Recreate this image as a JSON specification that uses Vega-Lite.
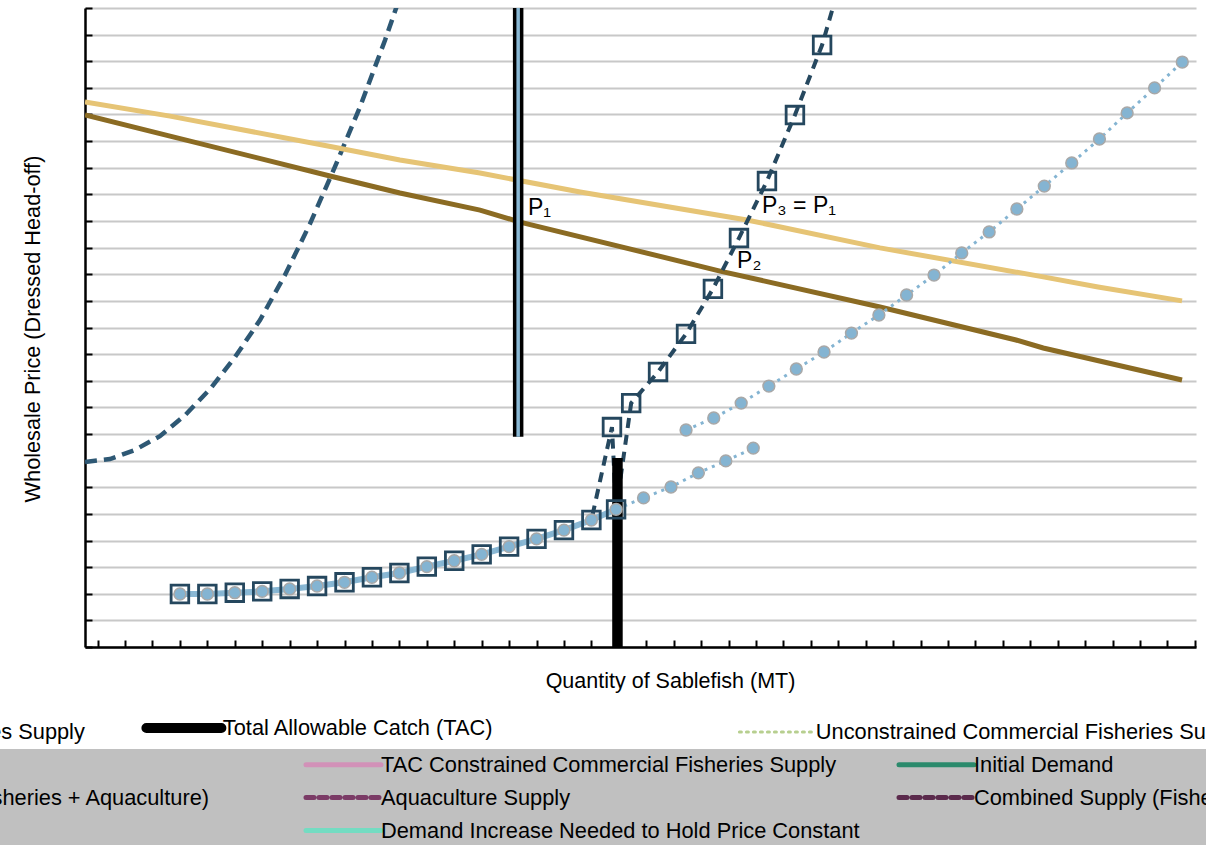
{
  "$schema": "https://vega.github.io/schema/vega-lite/v6.json",
  "autosize": {"type": "none"},
  "padding": {"left": 85, "top": 8, "right": 10, "bottom": 198},
  "width": 1111,
  "height": 639,
  "background": "white",
  "config": {
    "view": {"stroke": null},
    "font": "Liberation Sans, Arial, sans-serif"
  },
  "datasets": {
    "initialDemand": [
      {"q": 0.54, "p": 19.98}, {"q": 3.64, "p": 19.19}, {"q": 9.47, "p": 17.69}, {"q": 12.02, "p": 17.05},
      {"q": 14.94, "p": 16.41}, {"q": 16.40, "p": 15.96}, {"q": 23.69, "p": 14.12}, {"q": 29.52, "p": 12.77},
      {"q": 34.48, "p": 11.53}, {"q": 35.47, "p": 11.23}, {"q": 40.53, "p": 10.03}
    ],
    "increasedDemand": [
      {"q": 0.54, "p": 20.47}, {"q": 3.64, "p": 19.94}, {"q": 9.58, "p": 18.78}, {"q": 12.02, "p": 18.29},
      {"q": 14.94, "p": 17.80}, {"q": 18.59, "p": 17.09}, {"q": 24.67, "p": 16.04}, {"q": 29.52, "p": 14.99},
      {"q": 35.47, "p": 13.90}, {"q": 37.47, "p": 13.52}, {"q": 40.53, "p": 13.00}
    ],
    "aquaculture": [
      {"q": 0.54, "p": 6.95}, {"q": 1.45, "p": 7.06}, {"q": 2.36, "p": 7.40}, {"q": 3.27, "p": 7.92},
      {"q": 4.19, "p": 8.71}, {"q": 5.10, "p": 9.69}, {"q": 6.01, "p": 10.89}, {"q": 6.92, "p": 12.28},
      {"q": 7.83, "p": 13.97}, {"q": 8.74, "p": 15.89}, {"q": 9.65, "p": 18.03}, {"q": 10.57, "p": 20.30},
      {"q": 11.48, "p": 22.80}, {"q": 12.02, "p": 24.41}, {"q": 12.57, "p": 26.10}
    ],
    "combined": [
      {"q": 4, "p": 1.99}, {"q": 5, "p": 1.99}, {"q": 6, "p": 2.04}, {"q": 7, "p": 2.09}, {"q": 8, "p": 2.18},
      {"q": 9, "p": 2.29}, {"q": 10, "p": 2.43}, {"q": 11, "p": 2.62}, {"q": 12, "p": 2.78}, {"q": 13, "p": 3.02},
      {"q": 14, "p": 3.24}, {"q": 15, "p": 3.48}, {"q": 16, "p": 3.77}, {"q": 17, "p": 4.06}, {"q": 18, "p": 4.39},
      {"q": 19, "p": 4.77}, {"q": 19.9, "p": 5.17},
      {"q": 19.75, "p": 8.26}, {"q": 20.45, "p": 9.16}, {"q": 21.43, "p": 10.33}, {"q": 22.45, "p": 11.76},
      {"q": 23.43, "p": 13.45}, {"q": 24.38, "p": 15.36}, {"q": 25.40, "p": 17.50}, {"q": 26.42, "p": 19.98},
      {"q": 27.41, "p": 22.61}, {"q": 27.99, "p": 24.68}
    ],
    "tacConstrained": [
      {"q": 4, "p": 1.99}, {"q": 5, "p": 1.99}, {"q": 6, "p": 2.04}, {"q": 7, "p": 2.09}, {"q": 8, "p": 2.18},
      {"q": 9, "p": 2.29}, {"q": 10, "p": 2.43}, {"q": 11, "p": 2.62}, {"q": 12, "p": 2.78}, {"q": 13, "p": 3.02},
      {"q": 14, "p": 3.24}, {"q": 15, "p": 3.48}, {"q": 16, "p": 3.77}, {"q": 17, "p": 4.06}, {"q": 18, "p": 4.39},
      {"q": 19, "p": 4.77}, {"q": 19.9, "p": 5.17}
    ],
    "unconstrained": [
      {"seg": "a", "q": 4, "p": 1.99}, {"seg": "a", "q": 5, "p": 1.99}, {"seg": "a", "q": 6, "p": 2.04},
      {"seg": "a", "q": 7, "p": 2.09}, {"seg": "a", "q": 8, "p": 2.18}, {"seg": "a", "q": 9, "p": 2.29},
      {"seg": "a", "q": 10, "p": 2.43}, {"seg": "a", "q": 11, "p": 2.62}, {"seg": "a", "q": 12, "p": 2.78},
      {"seg": "a", "q": 13, "p": 3.02}, {"seg": "a", "q": 14, "p": 3.24}, {"seg": "a", "q": 15, "p": 3.48},
      {"seg": "a", "q": 16, "p": 3.77}, {"seg": "a", "q": 17, "p": 4.06}, {"seg": "a", "q": 18, "p": 4.39},
      {"seg": "a", "q": 19, "p": 4.77}, {"seg": "a", "q": 19.9, "p": 5.17}, {"seg": "a", "q": 20.9, "p": 5.60},
      {"seg": "a", "q": 21.9, "p": 6.01}, {"seg": "a", "q": 22.9, "p": 6.54}, {"seg": "a", "q": 23.9, "p": 6.99},
      {"seg": "a", "q": 24.9, "p": 7.47},
      {"seg": "b", "q": 22.45, "p": 8.15}, {"seg": "b", "q": 23.46, "p": 8.60}, {"seg": "b", "q": 24.46, "p": 9.16},
      {"seg": "b", "q": 25.47, "p": 9.80}, {"seg": "b", "q": 26.47, "p": 10.44}, {"seg": "b", "q": 27.48, "p": 11.08},
      {"seg": "b", "q": 28.48, "p": 11.79}, {"seg": "b", "q": 29.48, "p": 12.47}, {"seg": "b", "q": 30.49, "p": 13.22},
      {"seg": "b", "q": 31.49, "p": 13.97}, {"seg": "b", "q": 32.50, "p": 14.80}, {"seg": "b", "q": 33.50, "p": 15.59},
      {"seg": "b", "q": 34.51, "p": 16.45}, {"seg": "b", "q": 35.51, "p": 17.31}, {"seg": "b", "q": 36.51, "p": 18.18},
      {"seg": "b", "q": 37.52, "p": 19.08}, {"seg": "b", "q": 38.53, "p": 20.06}, {"seg": "b", "q": 39.53, "p": 21.00},
      {"seg": "b", "q": 40.54, "p": 21.97}
    ],
    "tac": [
      {"part": "upper", "q": 16.33, "p": 7.9, "p2": 24},
      {"part": "lower", "q": 19.95, "p": 0, "p2": 7.1}
    ],
    "labels": [
      {"label": "P₁", "q": 16.69, "p": 16.23},
      {"label": "P₃ = P₁", "q": 25.22, "p": 16.30},
      {"label": "P₂", "q": 24.31, "p": 14.23}
    ],
    "legendW": [
      {"entryW": "TAC Constrained Commercial Fisheries Supply"},
      {"entryW": "Total Allowable Catch (TAC)"},
      {"entryW": "Unconstrained Commercial Fisheries Supply"}
    ],
    "legendG": [
      {"entryG": "TAC Constrained Commercial Fisheries Supply"},
      {"entryG": "Initial Demand"},
      {"entryG": "Combined Supply (Fisheries + Aquaculture)"},
      {"entryG": "Aquaculture Supply"},
      {"entryG": "Demand Increase Needed to Hold Price Constant"}
    ]
  },
  "encoding": {
    "x": {
      "field": "q", "type": "quantitative",
      "scale": {"domain": [0.54, 41.04], "nice": false, "zero": false},
      "axis": {
        "title": "Quantity of Sablefish (MT)",
        "labels": false, "grid": false,
        "values": [1,2,3,4,5,6,7,8,9,10,11,12,13,14,15,16,17,18,19,20,21,22,23,24,25,26,27,28,29,30,31,32,33,34,35,36,37,38,39,40,41],
        "tickSize": -7, "tickColor": "#000", "tickWidth": 2,
        "domainColor": "#000", "domainWidth": 2.5,
        "titleX": 585, "titleY": 34, "titleAlign": "center", "titleBaseline": "middle",
        "titleFontSize": 21.5, "titleFontWeight": "normal", "titleColor": "#000",
        "titleFont": "Liberation Sans, Arial, sans-serif"
      }
    },
    "y": {
      "field": "p", "type": "quantitative",
      "scale": {"domain": [0, 24], "nice": false, "zero": false},
      "axis": {
        "title": "Wholesale Price (Dressed Head-off)",
        "labels": false, "grid": true, "gridColor": "#c8c8c8", "gridWidth": 2.2,
        "values": [0,1,2,3,4,5,6,7,8,9,10,11,12,13,14,15,16,17,18,19,20,21,22,23,24],
        "tickSize": -7, "tickColor": "#000", "tickWidth": 2,
        "domainColor": "#000", "domainWidth": 2.5,
        "titleX": -53, "titleY": 320.5, "titleAngle": 270, "titleAlign": "center", "titleBaseline": "middle",
        "titleFontSize": 21.7, "titleFontWeight": "normal", "titleColor": "#000",
        "titleFont": "Liberation Sans, Arial, sans-serif"
      }
    }
  },
  "layer": [
    {
      "data": {"name": "aquaculture"},
      "mark": {"type": "line", "clip": true, "color": "#2e5874", "strokeWidth": 4.5, "strokeDash": [12, 7]}
    },
    {
      "data": {"name": "initialDemand"},
      "mark": {"type": "line", "clip": true, "color": "#8b6b23", "strokeWidth": 5}
    },
    {
      "data": {"name": "increasedDemand"},
      "mark": {"type": "line", "clip": true, "color": "#e6c475", "strokeWidth": 5}
    },
    {
      "data": {"name": "combined"},
      "mark": {"type": "line", "clip": true, "color": "#26485f", "strokeWidth": 4, "strokeDash": [10, 7]}
    },
    {
      "data": {"name": "tacConstrained"},
      "mark": {"type": "line", "clip": true, "color": "#8ab8d4", "strokeWidth": 6}
    },
    {
      "data": {"name": "unconstrained"},
      "mark": {"type": "line", "clip": true, "color": "#84b4d2", "strokeWidth": 3, "strokeDash": [3, 5]},
      "encoding": {"detail": {"field": "seg", "type": "nominal"}}
    },
    {
      "data": {"name": "tac"},
      "mark": {"type": "rule", "color": "#000000", "strokeWidth": 10.5},
      "encoding": {"y2": {"field": "p2"}}
    },
    {
      "data": {"name": "tac"},
      "transform": [{"filter": "datum.part === 'upper'"}],
      "mark": {"type": "rule", "color": "#8ab8d4", "strokeWidth": 3.5},
      "encoding": {"y2": {"field": "p2"}}
    },
    {
      "data": {"name": "unconstrained"},
      "mark": {"type": "point", "clip": true, "shape": "circle", "filled": true, "fill": "#84b4d2", "stroke": "#a8a8a8", "strokeWidth": 1.5, "size": 140, "opacity": 1}
    },
    {
      "data": {"name": "combined"},
      "mark": {"type": "point", "clip": true, "shape": "square", "filled": false, "stroke": "#25475e", "strokeWidth": 2.8, "size": 310, "opacity": 1}
    },
    {
      "data": {"name": "labels"},
      "mark": {"type": "text", "align": "left", "baseline": "alphabetic", "fontSize": 23, "color": "#000", "font": "Liberation Sans, Arial, sans-serif"},
      "encoding": {"text": {"field": "label", "type": "nominal"}}
    },
    {
      "data": {"name": "legendW"},
      "mark": {"type": "line"},
      "encoding": {
        "color": {
          "field": "entryW", "type": "nominal",
          "scale": {
            "domain": ["TAC Constrained Commercial Fisheries Supply", "Total Allowable Catch (TAC)", "Unconstrained Commercial Fisheries Supply"],
            "range": ["#d291b8", "#000000", "#b7cf8f"]
          },
          "legend": {
            "title": null, "orient": "none", "legendX": -505, "legendY": 709,
            "direction": "horizontal", "columns": 3, "gridAlign": "all", "columnPadding": 41,
            "symbolType": "M-3.75,0H3.75", "symbolSize": 400, "symbolStrokeWidth": 5,
            "labelFont": "Liberation Sans, Arial, sans-serif", "labelFontSize": 21.8,
            "labelColor": "#000", "labelOffset": 28, "labelLimit": 0, "padding": 0,
            "encode": {"symbols": {"update": {
              "strokeWidth": {"signal": "datum.value === 'Total Allowable Catch (TAC)' ? 10 : (datum.value === 'Unconstrained Commercial Fisheries Supply' ? 3 : 5)"},
              "strokeCap": {"value": "round"}
            }}}
          }
        },
        "strokeDash": {
          "field": "entryW", "type": "nominal",
          "scale": {
            "domain": ["TAC Constrained Commercial Fisheries Supply", "Total Allowable Catch (TAC)", "Unconstrained Commercial Fisheries Supply"],
            "range": [[1, 0], [1, 0], [2, 5]]
          }
        }
      }
    },
    {
      "data": {"name": "legendG"},
      "mark": {"type": "line"},
      "encoding": {
        "color": {
          "field": "entryG", "type": "nominal",
          "scale": {
            "domain": [" ", "TAC Constrained Commercial Fisheries Supply", "Initial Demand", "Combined Supply (Fisheries + Aquaculture)", "Aquaculture Supply", "Combined Supply (Fisheries + Aquaculture) ", "  ", "Demand Increase Needed to Hold Price Constant"],
            "range": ["transparent", "#d291b8", "#2b8a6c", "#5b2a4c", "#7b3b66", "#5b2a4c", "transparent", "#74dcc2"]
          },
          "legend": {
            "title": null, "orient": "none", "legendX": -350, "legendY": 741,
            "direction": "horizontal", "columns": 3, "gridAlign": "all", "columnPadding": 29,
            "rowPadding": 8,
            "symbolType": "M-3.75,0H3.75", "symbolSize": 400, "symbolStrokeWidth": 5,
            "labelFont": "Liberation Sans, Arial, sans-serif", "labelFontSize": 21.8,
            "labelColor": "#000", "labelOffset": 25, "labelLimit": 0, "padding": 3,
            "fillColor": "#c0c0c0",
            "encode": {"symbols": {"update": {"strokeCap": {"value": "round"}}}}
          }
        },
        "strokeDash": {
          "field": "entryG", "type": "nominal",
          "scale": {
            "domain": [" ", "TAC Constrained Commercial Fisheries Supply", "Initial Demand", "Combined Supply (Fisheries + Aquaculture)", "Aquaculture Supply", "Combined Supply (Fisheries + Aquaculture) ", "  ", "Demand Increase Needed to Hold Price Constant"],
            "range": [[1, 0], [1, 0], [1, 0], [8, 5], [8, 5], [8, 5], [1, 0], [1, 0]]
          }
        }
      }
    }
  ],
  "resolve": {
    "scale": {"color": "independent", "strokeDash": "independent"},
    "legend": {"color": "independent", "strokeDash": "independent"}
  }
}
